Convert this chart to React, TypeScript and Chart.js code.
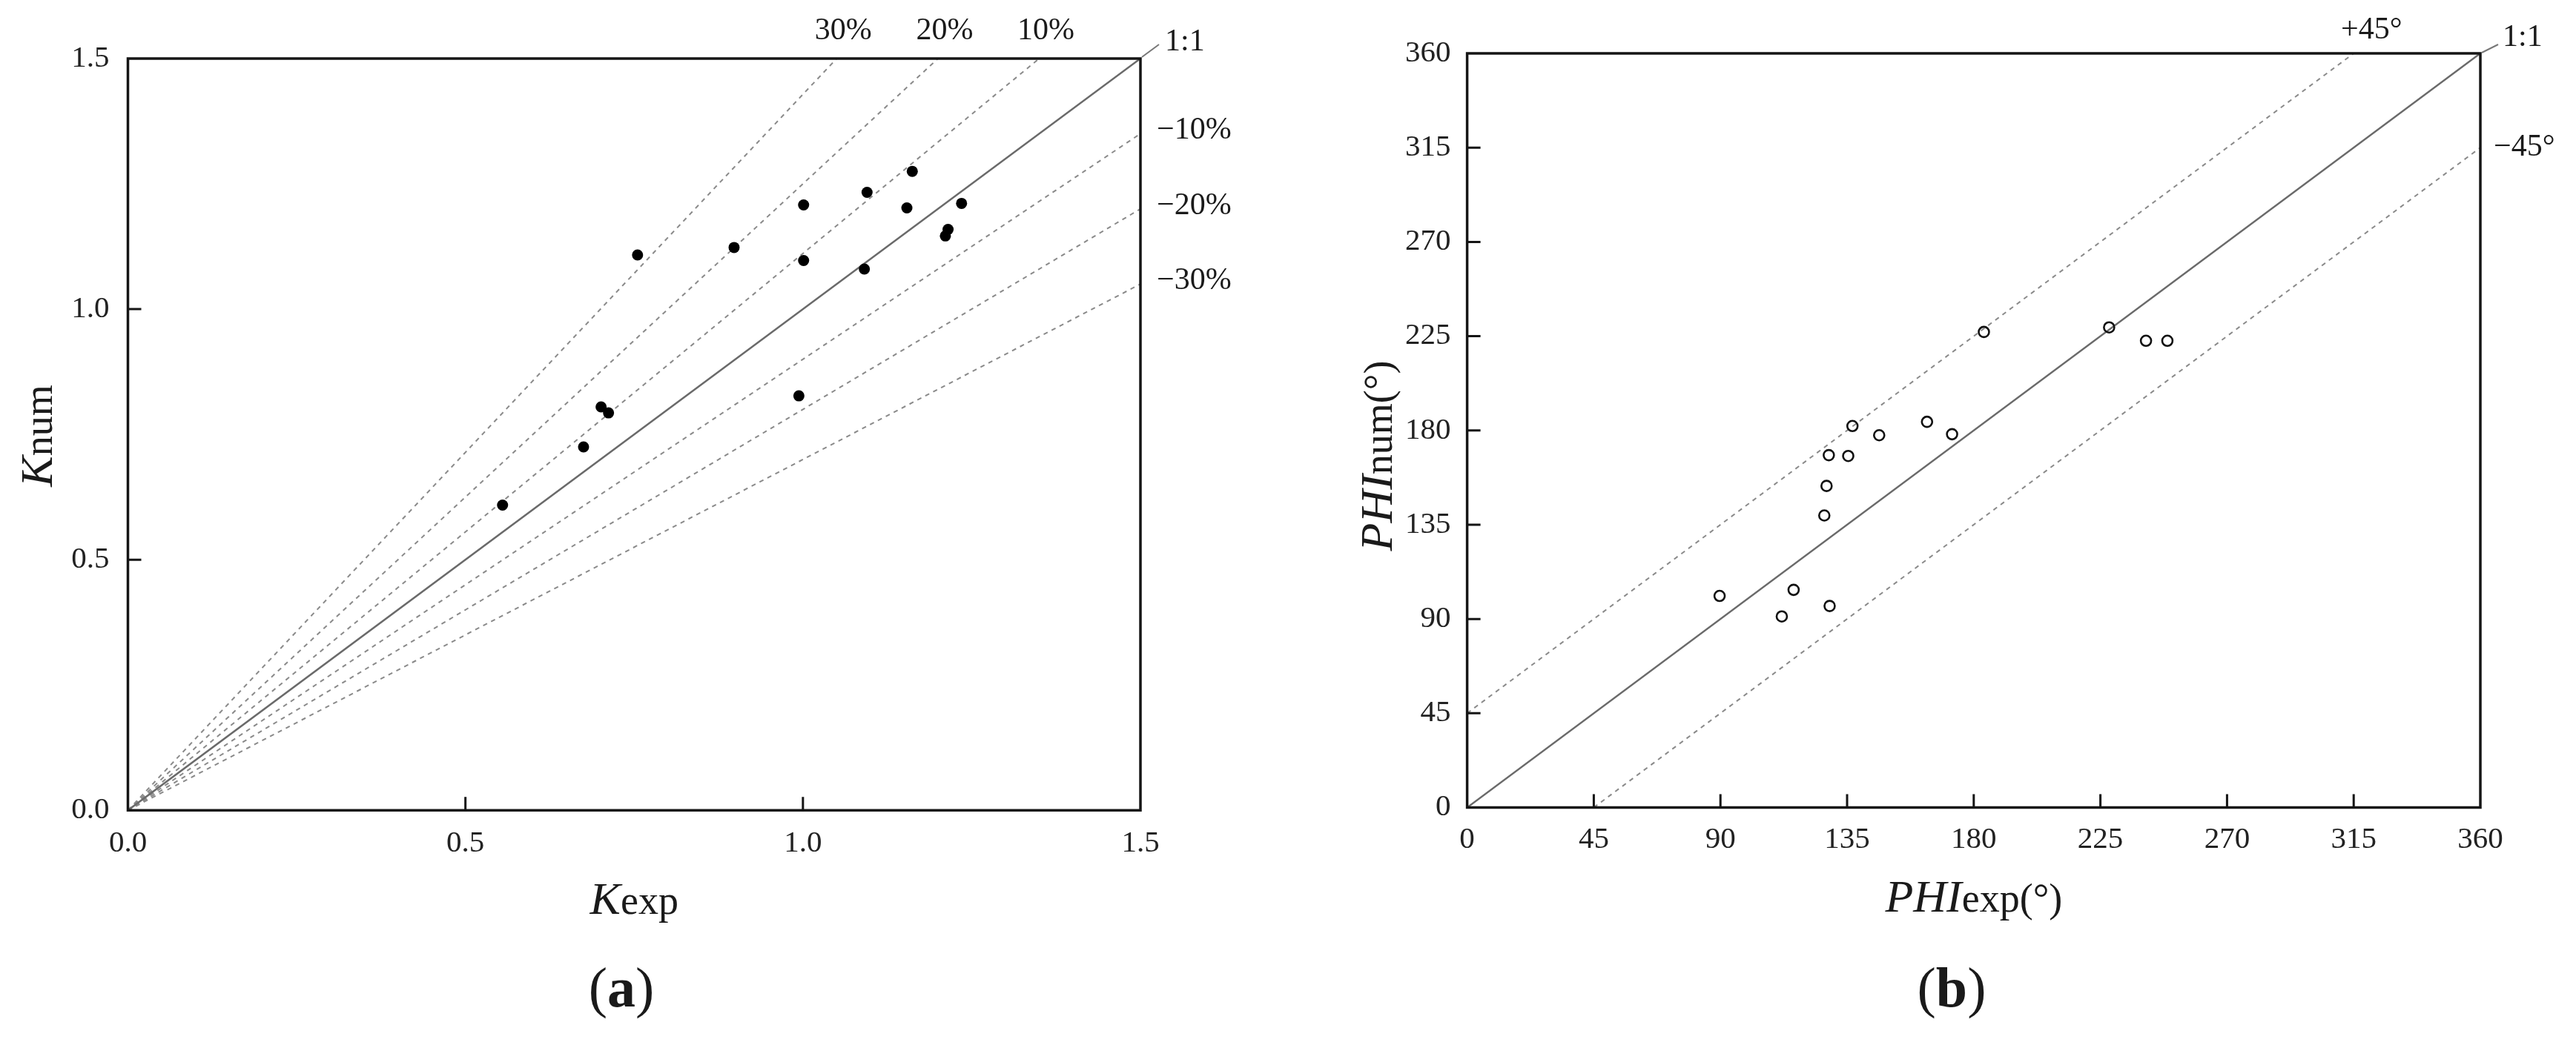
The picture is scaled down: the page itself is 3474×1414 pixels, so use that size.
import React, { useEffect, useRef } from 'react';
import { Chart, registerables } from 'chart.js';

Chart.register(...registerables);

// ---- data (a) ----
const kExp = [0.555, 0.675, 0.701, 0.712, 0.755, 0.898, 0.994, 1.001, 1.001, 1.091, 1.095, 1.154, 1.162, 1.211, 1.215, 1.235];
const kNum = [0.609, 0.725, 0.805, 0.793, 1.108, 1.123, 0.827, 1.208, 1.097, 1.080, 1.233, 1.202, 1.275, 1.146, 1.159, 1.211];
const kTicks = [0, 0.5, 1.0, 1.5];
const kTickLabels = ['0.0', '0.5', '1.0', '1.5'];
const kBands = [0.1, 0.2, 0.3];
const kPlusLabels = ['10%', '20%', '30%'];
const kMinusLabels = ['\u221210%', '\u221220%', '\u221230%'];

// ---- data (b) ----
const phiExp = [89.7, 111.8, 116.0, 128.8, 126.9, 127.7, 128.5, 135.4, 136.9, 146.4, 163.4, 172.3, 183.6, 228.1, 241.2, 248.8];
const phiNum = [101.0, 91.2, 103.9, 96.2, 139.4, 153.5, 168.2, 167.8, 182.1, 177.7, 184.1, 178.2, 227.0, 229.2, 222.8, 222.8];
const phiTicks = [0, 45, 90, 135, 180, 225, 270, 315, 360];
const phiTickLabels = ['0', '45', '90', '135', '180', '225', '270', '315', '360'];
const phiOffset = 45;

const SERIF = '"Liberation Serif", "Times New Roman", serif';
const W = 1737;
const H = 1414;

type Part = { t: string; f: string };

function richWidth(ctx: CanvasRenderingContext2D, parts: Part[]) {
  let w = 0;
  for (const p of parts) { ctx.font = p.f; w += ctx.measureText(p.t).width; }
  return w;
}
function drawRich(ctx: CanvasRenderingContext2D, parts: Part[], cx: number, by: number) {
  const w = richWidth(ctx, parts);
  let x = cx - w / 2;
  ctx.textAlign = 'left';
  ctx.textBaseline = 'alphabetic';
  for (const p of parts) { ctx.font = p.f; ctx.fillText(p.t, x, by); x += ctx.measureText(p.t).width; }
}

function drawFrame(chart: any, xt: number[], yt: number[]) {
  const { ctx, chartArea: a, scales } = chart;
  ctx.save();
  ctx.strokeStyle = '#151515';
  ctx.lineWidth = 3.5;
  ctx.strokeRect(a.left, a.top, a.right - a.left, a.bottom - a.top);
  ctx.lineWidth = 3;
  ctx.beginPath();
  for (let i = 1; i < xt.length - 1; i++) {
    const px = scales.x.getPixelForValue(xt[i]);
    ctx.moveTo(px, a.bottom); ctx.lineTo(px, a.bottom - 18);
  }
  for (let i = 1; i < yt.length - 1; i++) {
    const py = scales.y.getPixelForValue(yt[i]);
    ctx.moveTo(a.left, py); ctx.lineTo(a.left + 18, py);
  }
  ctx.stroke();
  ctx.restore();
}

function baseScale(min: number, max: number, ticks: number[], labels: string[], padding: number, fit: (s: any) => void) {
  return {
    type: 'linear',
    min, max,
    afterBuildTicks: (s: any) => { s.ticks = ticks.map((v) => ({ value: v })); },
    afterFit: fit,
    ticks: {
      callback: (_v: any, i: number) => labels[i],
      font: { family: SERIF, size: 41 },
      color: '#222',
      padding,
      autoSkip: false,
      maxRotation: 0,
      minRotation: 0,
    },
    grid: { display: false, drawTicks: false },
    border: { display: false },
  };
}

const lineDs = (pts: { x: number; y: number }[], dashed: boolean) => ({
  type: 'scatter',
  data: pts,
  showLine: true,
  borderColor: dashed ? '#8a8a8a' : '#6a6a6a',
  borderWidth: dashed ? 2 : 2.5,
  borderDash: dashed ? [6, 6] : [],
  pointRadius: 0,
  fill: false,
  order: 2,
});

function leftConfig(): any {
  const max = kTicks[kTicks.length - 1];
  const datasets: any[] = [
    {
      data: kExp.map((x, i) => ({ x, y: kNum[i] })),
      backgroundColor: '#000',
      borderColor: '#000',
      pointRadius: 7.5,
      pointBorderWidth: 0,
      order: 0,
    },
    lineDs([{ x: 0, y: 0 }, { x: max, y: max }], false),
  ];
  kBands.forEach((p) => {
    datasets.push(lineDs([{ x: 0, y: 0 }, { x: max * (1 - p), y: max }], true));
    datasets.push(lineDs([{ x: 0, y: 0 }, { x: max, y: max * (1 - p) }], true));
  });
  const plugin = {
    id: 'decorA',
    afterDraw(chart: any) {
      drawFrame(chart, kTicks, kTicks);
      const { ctx, chartArea: a, scales } = chart;
      ctx.save();
      ctx.fillStyle = '#1a1a1a';
      ctx.font = `42px ${SERIF}`;
      ctx.textBaseline = 'middle';
      ctx.textAlign = 'center';
      kBands.forEach((p, i) => {
        ctx.fillText(kPlusLabels[i], scales.x.getPixelForValue(max * (1 - p)) + 9, a.top - 37);
      });
      ctx.textAlign = 'left';
      kBands.forEach((p, i) => {
        ctx.fillText(kMinusLabels[i], a.right + 22, scales.y.getPixelForValue(max * (1 - p)) - 4);
      });
      ctx.fillText('1:1', a.right + 33, a.top - 22);
      ctx.strokeStyle = '#777';
      ctx.lineWidth = 2;
      ctx.beginPath(); ctx.moveTo(a.right + 2, a.top - 2); ctx.lineTo(a.right + 25, a.top - 19); ctx.stroke();
      // axis titles
      ctx.save();
      ctx.translate(70, 588);
      ctx.rotate(-Math.PI / 2);
      drawRich(ctx, [{ t: 'K', f: `italic 62px ${SERIF}` }, { t: 'num', f: `54px ${SERIF}` }], 0, 0);
      ctx.restore();
      drawRich(ctx, [{ t: 'K', f: `italic 62px ${SERIF}` }, { t: 'exp', f: `54px ${SERIF}` }], (a.left + a.right) / 2, 1233);
      drawRich(ctx, [{ t: '(', f: `76px ${SERIF}` }, { t: 'a', f: `bold 76px ${SERIF}` }, { t: ')', f: `76px ${SERIF}` }], 838, 1358);
      ctx.restore();
    },
  };
  return {
    type: 'scatter',
    data: { datasets },
    options: {
      animation: false,
      responsive: false,
      devicePixelRatio: 1,
      layout: { padding: { left: 0, top: 79, right: W - 1538, bottom: 0 } },
      plugins: { legend: { display: false }, tooltip: { enabled: false } },
      scales: {
        x: baseScale(0, max, kTicks, kTickLabels, 20, (s: any) => { s.height = H - 1093.3; }),
        y: baseScale(0, max, kTicks, kTickLabels, 25, (s: any) => { s.width = 172.5; }),
      },
    },
    plugins: [plugin],
  };
}

function rightConfig(): any {
  const max = phiTicks[phiTicks.length - 1];
  const datasets: any[] = [
    {
      data: phiExp.map((x, i) => ({ x, y: phiNum[i] })),
      backgroundColor: 'rgba(255,255,255,0)',
      borderColor: '#111',
      pointRadius: 7,
      pointBorderWidth: 2.6,
      order: 0,
    },
    lineDs([{ x: 0, y: 0 }, { x: max, y: max }], false),
    lineDs([{ x: 0, y: phiOffset }, { x: max - phiOffset, y: max }], true),
    lineDs([{ x: phiOffset, y: 0 }, { x: max, y: max - phiOffset }], true),
  ];
  const plugin = {
    id: 'decorB',
    afterDraw(chart: any) {
      drawFrame(chart, phiTicks, phiTicks);
      const { ctx, chartArea: a, scales } = chart;
      ctx.save();
      ctx.fillStyle = '#1a1a1a';
      ctx.font = `42px ${SERIF}`;
      ctx.textBaseline = 'middle';
      ctx.textAlign = 'center';
      ctx.fillText('+45\u00b0', scales.x.getPixelForValue(max - phiOffset) + 24, a.top - 31);
      ctx.textAlign = 'left';
      ctx.fillText('\u221245\u00b0', a.right + 18, scales.y.getPixelForValue(max - phiOffset));
      ctx.fillText('1:1', a.right + 30, a.top - 21);
      ctx.strokeStyle = '#777';
      ctx.lineWidth = 2;
      ctx.beginPath(); ctx.moveTo(a.right + 2, a.top - 1); ctx.lineTo(a.right + 24, a.top - 12); ctx.stroke();
      ctx.save();
      ctx.translate(140, 615);
      ctx.rotate(-Math.PI / 2);
      drawRich(ctx, [{ t: 'PHI', f: `italic 62px ${SERIF}` }, { t: 'num(\u00b0)', f: `54px ${SERIF}` }], 0, 0);
      ctx.restore();
      drawRich(ctx, [{ t: 'PHI', f: `italic 62px ${SERIF}` }, { t: 'exp(\u00b0)', f: `54px ${SERIF}` }], (a.left + a.right) / 2, 1230);
      drawRich(ctx, [{ t: '(', f: `76px ${SERIF}` }, { t: 'b', f: `bold 76px ${SERIF}` }, { t: ')', f: `76px ${SERIF}` }], 895, 1358);
      ctx.restore();
    },
  };
  return {
    type: 'scatter',
    data: { datasets },
    options: {
      animation: false,
      responsive: false,
      devicePixelRatio: 1,
      layout: { padding: { left: 0, top: 72, right: W - 1608, bottom: 0 } },
      plugins: { legend: { display: false }, tooltip: { enabled: false } },
      scales: {
        x: baseScale(0, max, phiTicks, phiTickLabels, 19, (s: any) => { s.height = H - 1089.5; }),
        y: baseScale(0, max, phiTicks, phiTickLabels, 22, (s: any) => { s.width = 241.6; }),
      },
    },
    plugins: [plugin],
  };
}

export default function App() {
  const leftRef = useRef<HTMLCanvasElement>(null);
  const rightRef = useRef<HTMLCanvasElement>(null);
  useEffect(() => {
    const c1 = new Chart(leftRef.current as HTMLCanvasElement, leftConfig());
    const c2 = new Chart(rightRef.current as HTMLCanvasElement, rightConfig());
    return () => { c1.destroy(); c2.destroy(); };
  }, []);
  return (
    <div style={{ position: 'absolute', left: 0, top: 0, width: 3474, height: 1414, background: '#fff' }}>
      <canvas ref={leftRef} width={W} height={H} style={{ position: 'absolute', left: 0, top: 0, width: W, height: H }} />
      <canvas ref={rightRef} width={W} height={H} style={{ position: 'absolute', left: W, top: 0, width: W, height: H }} />
    </div>
  );
}
